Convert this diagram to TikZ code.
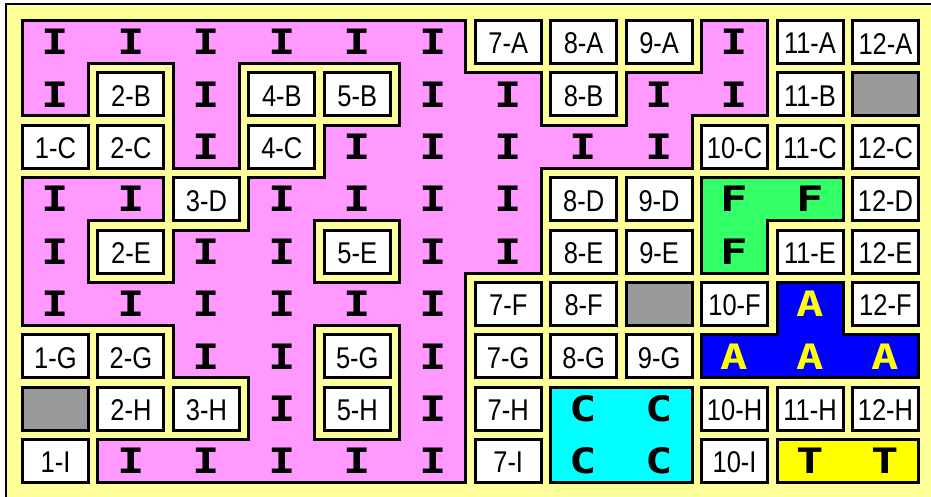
\documentclass[tikz,border=0pt]{standalone}
\usepackage{fontspec}
\newfontfamily\lfont{Liberation Sans}[FakeStretch=0.85]
\newfontfamily\gfont{DejaVu Sans Mono}[FakeStretch=1.3]
\definecolor{bgY}{RGB}{255,255,153}
\definecolor{pinkI}{RGB}{255,153,255}
\definecolor{greenF}{RGB}{51,255,102}
\definecolor{blueA}{RGB}{0,0,255}
\definecolor{cyanC}{RGB}{0,255,255}
\definecolor{yellowT}{RGB}{255,255,0}
\definecolor{grayX}{RGB}{153,153,153}
\definecolor{glyphY}{RGB}{255,255,0}
\tikzset{
  lab/.style={inner sep=0pt, font=\lfont\fontsize{30}{30}\selectfont},
  glyph/.style={inner sep=0pt, font=\gfont\bfseries\fontsize{35}{35}\selectfont},
}
\begin{document}
\begin{tikzpicture}[x=1pt,y=-1pt]
\def\G{{1,1,1,1,1,1,0,0,0,1,0,0,-1,%
1,0,1,0,0,1,1,0,1,1,0,6,-1,%
0,0,1,0,1,1,1,1,1,0,0,0,-1,%
1,1,0,1,1,1,1,0,0,2,2,0,-1,%
1,0,1,1,0,1,1,0,0,2,0,0,-1,%
1,1,1,1,1,1,0,0,6,0,3,0,-1,%
0,0,1,1,0,1,0,0,0,3,3,3,-1,%
6,0,0,1,0,1,0,4,4,0,0,0,-1,%
0,1,1,1,1,1,0,4,4,0,5,5,-1,%
-1,-1,-1,-1,-1,-1,-1,-1,-1,-1,-1,-1,-1}}
\useasboundingbox (0,0) rectangle (931,497);
\fill[white] (0,0) rectangle (931,497);
\fill[black] (5,3) rectangle (931,497);
\fill[bgY] (7.3,5.3) rectangle (931,497);
% black pass
\foreach \rr in {0,...,8}{
 \foreach \cc in {0,...,11}{
  \pgfmathtruncatemacro\cv{\G[\rr*13+\cc]}
  \pgfmathtruncatemacro\cvR{\G[\rr*13+\cc+1]}
  \pgfmathtruncatemacro\cvD{\G[(\rr+1)*13+\cc]}
  \pgfmathtruncatemacro\cvRD{\G[(\rr+1)*13+\cc+1]}
  \pgfmathtruncatemacro\mR{(\cv>0)&&(\cv<6)&&(\cvR==\cv)}
  \pgfmathtruncatemacro\mD{(\cv>0)&&(\cv<6)&&(\cvD==\cv)}
  \pgfmathtruncatemacro\mRD{(\mR==1)&&(\mD==1)&&(\cvRD==\cv)}
  \pgfmathsetmacro\xa{21+75.45*\cc}
  \pgfmathsetmacro\ya{19+52.375*\rr}
  \pgfmathsetmacro\xb{\xa+69}
  \pgfmathsetmacro\yb{\ya+46}
  \fill[black] (\xa,\ya) rectangle (\xb,\yb);
  \ifnum\mR=1 \fill[black] (\xb,\ya) rectangle (\xa+75.45,\yb); \fi
  \ifnum\mD=1 \fill[black] (\xa,\yb) rectangle (\xb,\ya+52.375); \fi
  \ifnum\mRD=1 \fill[black] (\xb,\yb) rectangle (\xa+75.45,\ya+52.375); \fi
 }
}
% colour pass
\foreach \rr in {0,...,8}{
 \foreach \cc in {0,...,11}{
  \pgfmathtruncatemacro\cv{\G[\rr*13+\cc]}
  \pgfmathtruncatemacro\cvR{\G[\rr*13+\cc+1]}
  \pgfmathtruncatemacro\cvD{\G[(\rr+1)*13+\cc]}
  \pgfmathtruncatemacro\cvRD{\G[(\rr+1)*13+\cc+1]}
  \pgfmathtruncatemacro\mR{(\cv>0)&&(\cv<6)&&(\cvR==\cv)}
  \pgfmathtruncatemacro\mD{(\cv>0)&&(\cv<6)&&(\cvD==\cv)}
  \pgfmathtruncatemacro\mRD{(\mR==1)&&(\mD==1)&&(\cvRD==\cv)}
  \pgfmathsetmacro\xa{21+75.45*\cc}
  \pgfmathsetmacro\ya{19+52.375*\rr}
  \pgfmathsetmacro\xb{\xa+69}
  \pgfmathsetmacro\yb{\ya+46}
  \edef\colname{\ifcase\cv white\or pinkI\or greenF\or blueA\or cyanC\or yellowT\or grayX\fi}
  \fill[\colname] (\xa+3,\ya+3) rectangle (\xb-3,\yb-3);
  \ifnum\mR=1 \fill[\colname] (\xa+3,\ya+3) rectangle (\xb+75.45-3,\yb-3); \fi
  \ifnum\mD=1 \fill[\colname] (\xa+3,\ya+3) rectangle (\xb-3,\yb+52.375-3); \fi
  \ifnum\mRD=1 \fill[\colname] (\xa+3,\ya+3) rectangle (\xb+75.45-3,\yb+52.375-3); \fi
 }
}
% text pass
\foreach \rr in {0,...,8}{
 \foreach \cc in {0,...,11}{
  \pgfmathtruncatemacro\cv{\G[\rr*13+\cc]}
  \pgfmathtruncatemacro\cn{\cc+1}
  \pgfmathsetmacro\xm{21+75.45*\cc+34.5}
  \pgfmathsetmacro\ya{19+52.375*\rr}
  \edef\rl{\ifcase\rr A\or B\or C\or D\or E\or F\or G\or H\or I\fi}
  \ifnum\cv=0
    \node[lab] (cell-\cn-\rl) at (\xm,\ya+24.6) {\cn-\rl};
  \fi
  \ifnum\cv>0 \ifnum\cv<6
    \edef\gl{\ifcase\cv \or I\or F\or A\or C\or T\fi}
    \ifnum\cv=3
      \node[glyph, text=glyphY] (g-\cn-\rl) at (\xm,\ya+23) {\gl};
    \else
      \node[glyph] (g-\cn-\rl) at (\xm,\ya+23) {\gl};
    \fi
  \fi\fi
 }
}
\end{tikzpicture}
\end{document}
